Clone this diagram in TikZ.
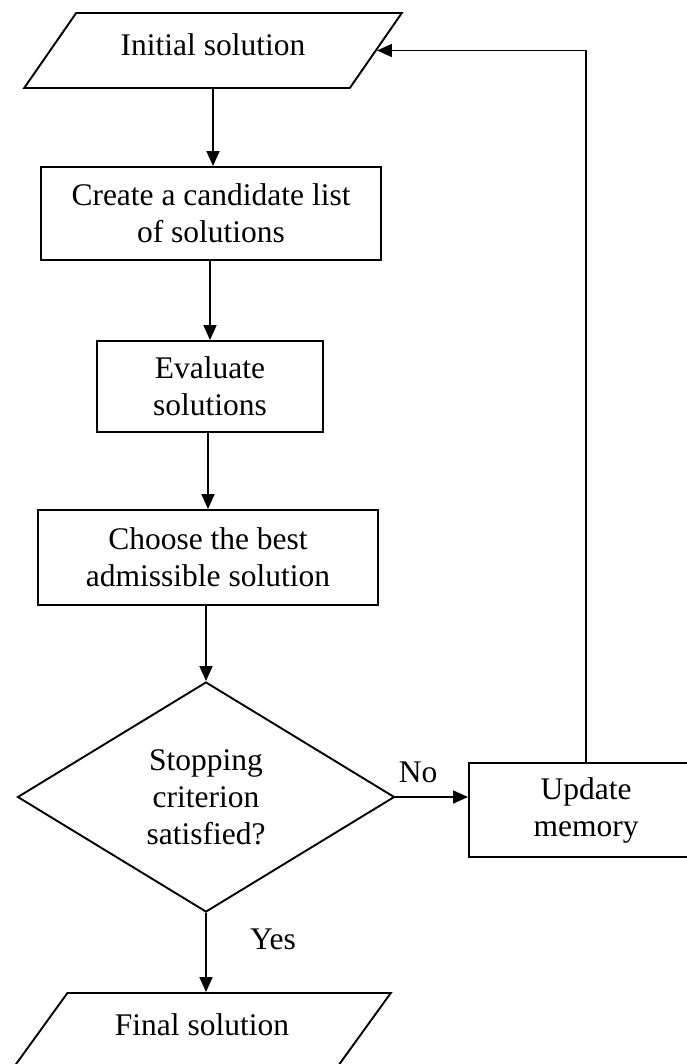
\documentclass[tikz,border=0pt]{standalone}
\usepackage{fontspec}
\setmainfont{Liberation Serif}
\usetikzlibrary{shapes.geometric,arrows.meta}
\tikzset{
  every node/.style={font=\fontsize{31.5}{37}\selectfont, inner sep=0pt},
  procbox/.style={draw, line width=1.9pt, align=center},
  iobox/.style={draw, line width=1.9pt, trapezium, trapezium left angle=44,
    trapezium right angle=136, trapezium stretches=true,
    minimum width=378pt, minimum height=75pt, text depth=12pt},
  decbox/.style={draw, line width=1.9pt, diamond, align=center,
    minimum width=377pt, minimum height=230pt, aspect=1.64},
  arr/.style={line width=1.7pt, -{Triangle[length=15pt,width=13pt]}},
  lbl/.style={}
}
\begin{document}
\begin{tikzpicture}[x=1pt,y=-1pt]
\useasboundingbox (0,0) rectangle (686,1064);
\node[iobox] (init) at (213,50.5) {Initial solution};
\node[procbox, minimum width=340pt, minimum height=93pt] (create) at (211,213.5) {Create a candidate list\\of solutions};
\node[procbox, minimum width=226pt, minimum height=91pt] (eval) at (210,386.5) {Evaluate\\solutions};
\node[procbox, minimum width=340pt, minimum height=95pt] (choose) at (208,557.5) {Choose the best\\admissible solution};
\node[decbox] (dec) at (206,797) {Stopping\\criterion\\satisfied?};
\node[procbox, minimum width=234pt, minimum height=94pt] (upd) at (586,810) {Update\\memory};
\node[iobox] (fin) at (202,1030.5) {Final solution};
\node[lbl] (no) at (418,772) {No};
\node[lbl] (yes) at (273,939) {Yes};

\draw[arr] (init.south) -- (init.south |- create.north);
\draw[arr] (eval.north |- create.south) -- (eval.north);
\draw[arr] (choose.north |- eval.south) -- (choose.north);
\draw[arr] (dec.north |- choose.south) -- (dec.north);
\draw[arr] (dec.east) -- (dec.east -| upd.west);
\draw[arr] (dec.south) -- (dec.south |- fin.north);
\draw[arr] (upd.north) |- (init.east);
\end{tikzpicture}
\end{document}
